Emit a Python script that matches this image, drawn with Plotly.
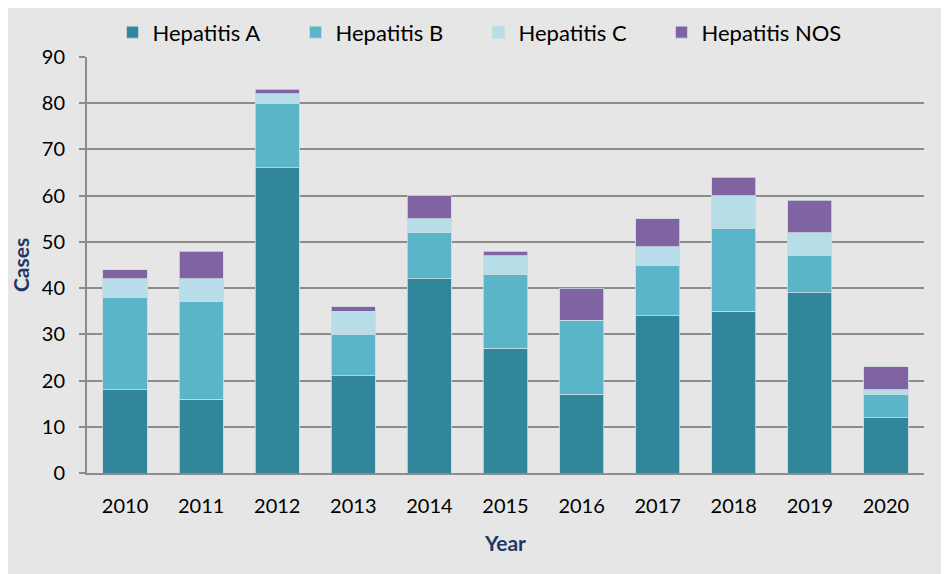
import plotly.graph_objects as go

years = ["2010", "2011", "2012", "2013", "2014", "2015", "2016", "2017", "2018", "2019", "2020"]
hep_a = [18, 16, 66, 21, 42, 27, 17, 34, 35, 39, 12]
hep_b = [20, 21, 14, 9, 10, 16, 16, 11, 18, 8, 5]
hep_c = [4, 5, 2, 5, 3, 4, 0, 4, 7, 5, 1]
hep_nos = [2, 6, 1, 1, 5, 1, 7, 6, 4, 7, 5]

series = [
    ("Hepatitis A", hep_a, "#31869b"),
    ("Hepatitis B", hep_b, "#5bb5c8"),
    ("Hepatitis C", hep_c, "#b7dde8"),
    ("Hepatitis NOS", hep_nos, "#8064a2"),
]

fig = go.Figure()
for name, vals, color in series:
    fig.add_trace(go.Bar(
        x=years, y=vals, name=name,
        marker=dict(color=color, line=dict(color="#c9dbe2", width=0.8)),
    ))

font_family = "Lato, 'Open Sans', sans-serif"
fig.update_layout(
    barmode="stack",
    bargap=0.42,
    width=941, height=566,
    margin=dict(l=79, r=25, t=49, b=101, autoexpand=False),
    paper_bgcolor="#e6e6e6",
    plot_bgcolor="#e6e6e6",
    font=dict(family=font_family, size=20, color="#000000"),
    legend=dict(
        orientation="h",
        xref="container", x=0.5, xanchor="center",
        yref="container", y=0.957, yanchor="middle",
        font=dict(size=22), traceorder="normal",
        entrywidth=138, entrywidthmode="pixels",
        bgcolor="rgba(0,0,0,0)",
    ),
    xaxis=dict(
        title=dict(text="<b>Year</b>", font=dict(size=21, color="#1f3864"), standoff=20),
        showline=True, linecolor="#8c8c8c", linewidth=2,
        ticks="", tickfont=dict(size=20), ticklabelstandoff=14,
        showgrid=False,
    ),
    yaxis=dict(
        title=dict(text="<b>Cases</b>", font=dict(size=21, color="#1f3864"), standoff=8),
        range=[0, 90], dtick=10,
        showline=True, linecolor="#8c8c8c", linewidth=2,
        ticks="outside", ticklen=6, tickcolor="#8c8c8c", tickwidth=2,
        ticklabelstandoff=10,
        showgrid=True, gridcolor="#8c8c8c", gridwidth=2,
        zeroline=False,
        tickfont=dict(size=20),
    ),
)

fig.write_html("out.html")
